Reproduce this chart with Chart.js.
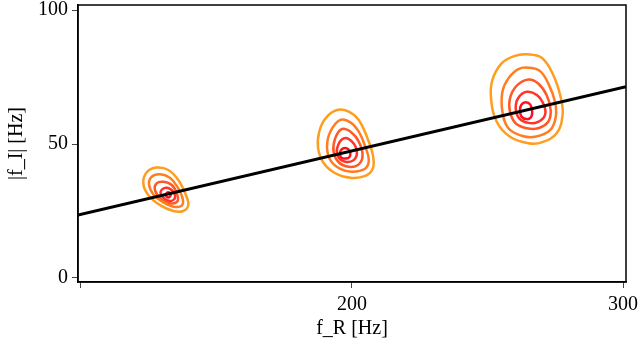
<!DOCTYPE html>
<html>
<head>
<meta charset="utf-8">
<script src="https://cdn.jsdelivr.net/npm/chart.js@4"></script>
<style>
  html, body { margin: 0; padding: 0; background: #fff; }
</style>
</head>
<body>
<canvas id="contourChart" width="639" height="351"></canvas>
<script>
// fitted line f_I = f(f_R)
const fitX = [98.9, 301.1];
const fitY = [23.5, 71.4];

// tick values / labels
const xTicks = [100, 200, 300];
const xTickLabels = ["", "200", "300"];
const yTicks = [0, 50, 100];
const yTickLabels = ["0", "50", "100"];

// contour levels, outer -> inner, for the three peaks
const peakA1 = [[127.9,41.2],[132.2,40.3],[135.9,36.6],[138.7,31.0],[139.6,27.2],[137.7,25.0],[134.1,25.0],[129.2,27.2],[124.8,31.0],[123.0,35.3],[124.2,39.4]];
const peakA2 = [[129.2,38.7],[132.8,37.4],[135.5,34.1],[137.5,29.7],[137.2,27.0],[134.1,26.6],[130.4,28.2],[126.7,31.2],[125.1,35.0],[126.1,37.8]];
const peakA3 = [[130.4,35.9],[133.5,34.7],[135.5,31.2],[135.5,28.5],[132.8,27.9],[129.4,29.7],[127.3,32.8],[127.9,35.3]];
const peakA4 = [[131.4,33.7],[133.8,32.5],[134.7,30.0],[132.8,28.7],[130.4,30.0],[129.4,32.2]];
const peakA5 = [[132.2,32.0],[133.1,31.0],[132.2,30.0],[131.3,31.0]];

const peakB1 = [[194.5,62.7],[198.8,62.1],[202.5,59.0],[205.5,52.7],[207.7,45.9],[207.7,40.9],[204.9,38.1],[199.4,37.4],[193.8,39.1],[189.6,42.8],[187.5,48.4],[187.9,54.6],[190.4,59.8]];
const peakB2 = [[195.7,59.0],[199.4,58.1],[202.5,54.6],[204.9,49.0],[206.2,44.0],[204.9,40.9],[200.0,39.7],[195.7,40.7],[192.0,44.0],[190.8,49.0],[192.0,54.6]];
const peakB3 = [[196.3,55.6],[199.7,54.4],[202.5,50.9],[203.9,45.9],[202.5,42.4],[198.8,41.5],[195.1,43.2],[193.2,47.1],[193.8,52.1]];
const peakB4 = [[196.9,52.1],[200.0,50.9],[201.8,47.1],[200.6,44.0],[197.5,43.4],[195.1,44.9],[194.5,48.4]];
const peakB5 = [[197.4,48.5],[198.8,47.9],[199.4,46.6],[199.0,45.1],[197.8,44.6],[196.1,44.9],[195.6,46.5],[196.1,47.9]];

const peakC1 = [[264.5,83.5],[270.0,82.2],[274.3,75.7],[277.1,67.1],[277.7,60.8],[275.5,54.0],[270.0,50.6],[265.1,50.3],[258.3,52.7],[253.4,58.3],[251.3,67.1],[251.8,73.9],[255.2,80.1],[260.1,82.9]];
const peakC2 = [[265.1,78.5],[269.4,77.2],[272.7,72.0],[274.9,65.8],[275.2,60.2],[273.1,55.2],[267.5,52.7],[262.6,53.1],[257.7,55.9],[255.5,62.1],[255.5,69.5],[257.7,74.5],[261.4,78.0]];
const peakC3 = [[265.1,74.1],[268.7,72.6],[271.8,68.3],[273.3,62.7],[272.4,58.3],[268.7,55.9],[264.5,55.9],[260.4,57.7],[258.3,62.1],[258.3,67.1],[260.8,71.8]];
const peakC4 = [[264.5,69.5],[268.2,68.3],[270.8,64.6],[271.2,60.8],[268.7,58.3],[265.1,57.9],[261.7,59.6],[260.4,63.3],[261.4,67.3]];
const peakC5 = [[264.1,65.6],[265.8,64.7],[266.5,62.1],[266.1,60.1],[264.5,59.3],[262.5,60.3],[262.0,62.7],[262.5,64.7]];

const levelColors = ["#ff9d1e", "#ff7d20", "#ff5a26", "#ff3329", "#ff1020"];

const rings = [
  [peakA1, peakA2, peakA3, peakA4, peakA5],
  [peakB1, peakB2, peakB3, peakB4, peakB5],
  [peakC1, peakC2, peakC3, peakC4, peakC5]
];

const font = { family: "'Liberation Serif', 'Times New Roman', serif", size: 20 };

// closed loop: pad with neighbours so the spline is smooth at the seam,
// the two padding segments are hidden
function ringDataset(ring, color) {
  const pts = [ring[ring.length - 1], ...ring, ring[0], ring[1]];
  const last = pts.length - 1;
  return {
    data: pts.map(([x, y]) => ({ x, y })),
    showLine: true,
    borderColor: color,
    borderWidth: 2.5,
    pointRadius: 0,
    tension: 0.4,
    segment: {
      borderColor: (ctx) => (ctx.p0DataIndex === 0 || ctx.p1DataIndex === last ? "rgba(0,0,0,0)" : color)
    }
  };
}

const datasets = [
  {
    data: fitX.map((x, i) => ({ x, y: fitY[i] })),
    showLine: true,
    borderColor: "#000",
    borderWidth: 3,
    pointRadius: 0
  }
];
rings.forEach((group) => {
  group.forEach((ring, level) => datasets.push(ringDataset(ring, levelColors[level])));
});

const frame = {
  id: "frame",
  afterDraw(chart) {
    const { ctx, chartArea: a } = chart;
    ctx.save();
    ctx.strokeStyle = "#000";
    ctx.lineWidth = 1.5;
    ctx.strokeRect(a.left, a.top, a.right - a.left, a.bottom - a.top);
    ctx.restore();
  }
};

// keep the plot box fixed: no extra margins for overhanging tick labels
function noPad(s) {
  s.paddingLeft = 0;
  s.paddingRight = 0;
  s.paddingTop = 0;
  s.paddingBottom = 0;
}

new Chart(document.getElementById("contourChart"), {
  type: "scatter",
  data: { datasets },
  plugins: [frame],
  options: {
    responsive: false,
    animation: false,
    devicePixelRatio: 1,
    layout: { padding: { left: 0, right: 13, top: 5, bottom: 0 } },
    plugins: { legend: { display: false }, tooltip: { enabled: false } },
    scales: {
      x: {
        type: "linear",
        min: 98.9,
        max: 301.1,
        afterFit: (s) => { s.height = 69; noPad(s); },
        afterBuildTicks: (axis) => { axis.ticks = xTicks.map((v) => ({ value: v })); },
        ticks: {
          color: "#000",
          font,
          padding: 5,
          maxRotation: 0,
          callback: (v, i) => xTickLabels[i]
        },
        grid: { drawOnChartArea: false, drawTicks: true, tickLength: 6, color: "#444" },
        border: { color: "#000", width: 1.5 },
        title: { display: true, text: "f_R [Hz]", color: "#000", font, padding: { top: 2, bottom: 10 } }
      },
      y: {
        type: "linear",
        min: -1.5,
        max: 101.9,
        afterFit: (s) => { s.width = 78; noPad(s); },
        afterBuildTicks: (axis) => { axis.ticks = yTicks.map((v) => ({ value: v })); },
        ticks: {
          color: "#000",
          font,
          padding: 4,
          callback: (v, i) => yTickLabels[i]
        },
        grid: { drawOnChartArea: false, drawTicks: true, tickLength: 6, color: "#444" },
        border: { color: "#000", width: 1.5 },
        title: { display: true, text: "|f_I| [Hz]", color: "#000", font, padding: { top: 5, bottom: 2 } }
      }
    }
  }
});
</script>
</body>
</html>
